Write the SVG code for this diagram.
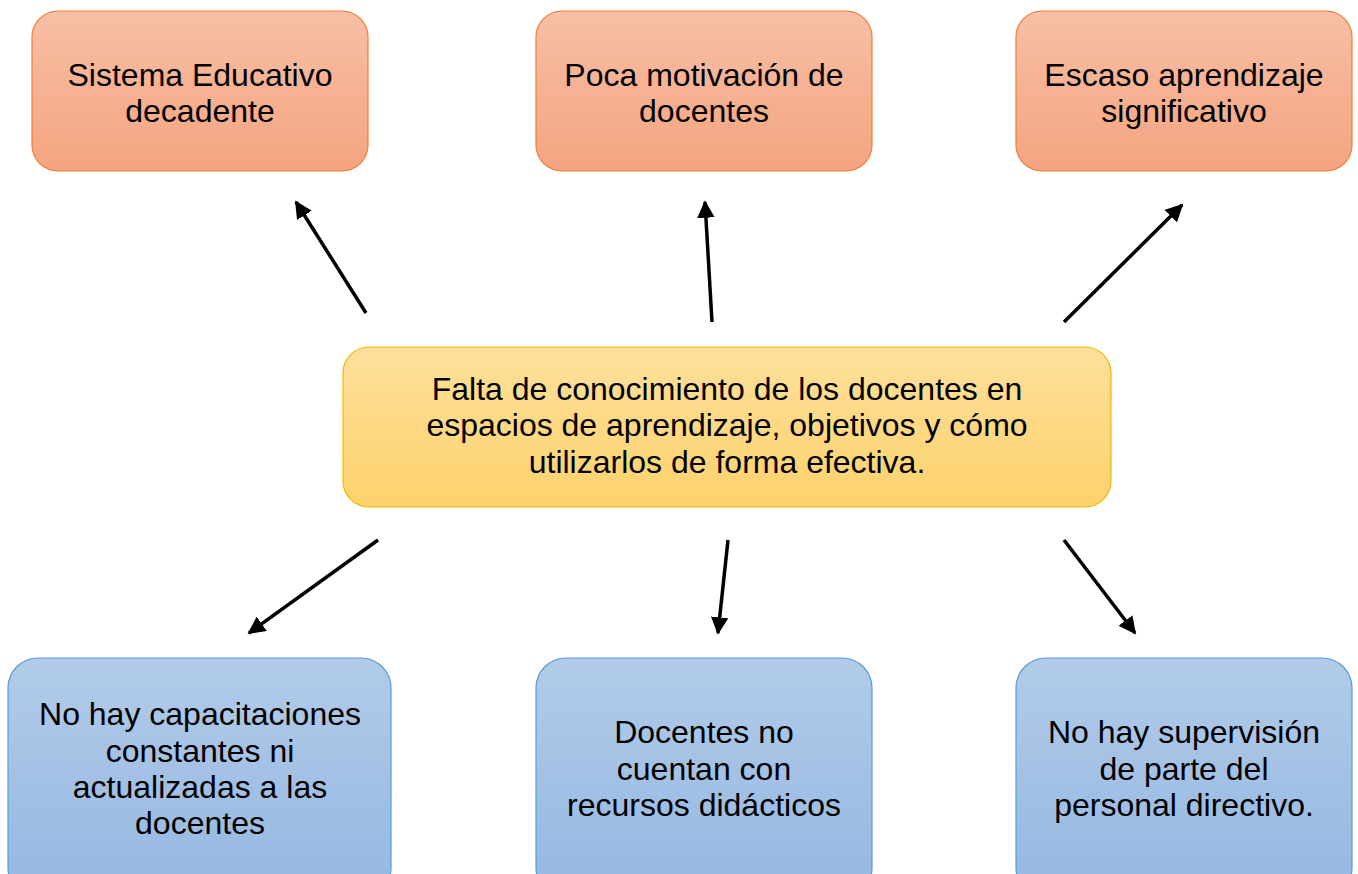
<svg xmlns="http://www.w3.org/2000/svg" width="1358" height="874" viewBox="0 0 1358 874">
<defs>
<linearGradient id="gO" x1="0" y1="0" x2="0" y2="1"><stop offset="0" stop-color="#F7BFA6"/><stop offset="1" stop-color="#F4A47F"/></linearGradient>
<linearGradient id="gY" x1="0" y1="0" x2="0" y2="1"><stop offset="0" stop-color="#FEE09C"/><stop offset="1" stop-color="#FDD26C"/></linearGradient>
<linearGradient id="gB" x1="0" y1="0" x2="0" y2="1"><stop offset="0" stop-color="#B2CBE9"/><stop offset="1" stop-color="#94B7E1"/></linearGradient>
<marker id="ah" viewBox="0 0 10 10" refX="9" refY="5" markerWidth="5" markerHeight="5" orient="auto" markerUnits="strokeWidth">
<path d="M0,0 L10,5 L0,10 z" fill="#000"/>
</marker>
</defs>
<style>
.o{fill:url(#gO);stroke:#ED7D31;stroke-width:1.2}
.y{fill:url(#gY);stroke:#F2B705;stroke-width:1.2}
.b{fill:url(#gB);stroke:#5B9BD5;stroke-width:1.2}
text{font-family:"Liberation Sans",Arial,sans-serif;font-size:32px;fill:#000;text-anchor:middle}
.c line{stroke:#000;stroke-width:3.5;marker-end:url(#ah)}
</style>
<rect width="1358" height="874" fill="#fff"/>
<g id="n1"><rect class="o" x="32" y="11" width="336" height="160" rx="26"/>
<text x="200" y="86">Sistema Educativo</text><text x="200" y="122">decadente</text></g>
<g id="n2"><rect class="o" x="536" y="11" width="336" height="160" rx="26"/>
<text x="704" y="86">Poca motivación de</text><text x="704" y="122">docentes</text></g>
<g id="n3"><rect class="o" x="1016" y="11" width="336" height="160" rx="26"/>
<text x="1184" y="86">Escaso aprendizaje</text><text x="1184" y="122">significativo</text></g>
<g id="center"><rect class="y" x="343" y="347" width="768" height="160" rx="26"/>
<text x="727" y="400">Falta de conocimiento de los docentes en</text>
<text x="727" y="436">espacios de aprendizaje, objetivos y cómo</text>
<text x="727" y="473">utilizarlos de forma efectiva.</text></g>
<g id="n4"><rect class="b" x="8" y="658" width="383" height="240" rx="30"/>
<text x="200" y="725">No hay capacitaciones</text><text x="200" y="762">constantes ni</text><text x="200" y="798">actualizadas a las</text><text x="200" y="834">docentes</text></g>
<g id="n5"><rect class="b" x="536" y="658" width="336" height="240" rx="30"/>
<text x="704" y="743">Docentes no</text><text x="704" y="780">cuentan con</text><text x="704" y="816">recursos didácticos</text></g>
<g id="n6"><rect class="b" x="1016" y="658" width="336" height="240" rx="30"/>
<text x="1184" y="743">No hay supervisión</text><text x="1184" y="780">de parte del</text><text x="1184" y="816">personal directivo.</text></g>
<g id="connectors" class="c">
<line x1="366" y1="313" x2="296" y2="202"/>
<line x1="712" y1="322" x2="705" y2="202"/>
<line x1="1064" y1="322" x2="1182" y2="205"/>
<line x1="378" y1="540" x2="249" y2="633"/>
<line x1="728" y1="540" x2="718" y2="633"/>
<line x1="1064" y1="540" x2="1135" y2="633"/>
</g>
</svg>
